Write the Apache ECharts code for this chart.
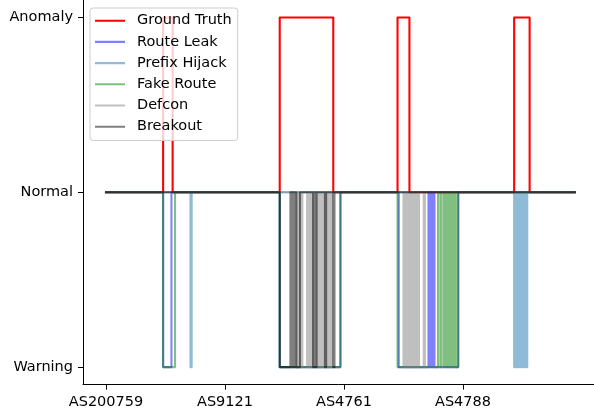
<!DOCTYPE html>
<html>
<head>
<meta charset="utf-8">
<script src="https://cdn.jsdelivr.net/npm/echarts@6/dist/echarts.min.js"></script>
<style>html,body{margin:0;padding:0;background:#fff}#c{width:594px;height:412px}</style>
</head>
<body>
<div id="c"></div>
<script>
// ---- data (sample index on x; 1 = Anomaly, 0 = Normal, -1 = Warning) ----
const xTickPos = [0, 100, 200, 300];
const xTickLabels = ['AS200759', 'AS9121', 'AS4761', 'AS4788'];
const yTickPos = [-1, 0, 1];
const yTickLabels = ['Warning', 'Normal', 'Anomaly'];
const lastSample = 394;

// intervals [start, end) where the series leaves Normal
const groundTruth = [[48,56],[146,191],[245,255],[343,356]];
const routeLeak = [[48,55],[146,197],[246,271],[272,273],[274,275],[276,296]];
const prefixHijack = [[71,72],[343,344],[345,346],[347,348],[349,350],[351,352],[353,354]];
const fakeRoute = [[48,58],[146,197],[245,279],[281,282],[284,285],[286,287],[288,289],[290,291],[292,293],[294,296]];
const defcon = [[160,161],[162,163],[164,165],[169,170],[171,172],[173,174],[177,178],[179,180],[181,182],[183,184],[185,186],[187,188],[189,190],
                [250,251],[252,253],[254,255],[256,257],[258,259],[260,261],[262,263],[267,268]];
const breakout = [[146,155],[156,157],[158,159],[160,163],[174,175],[176,177],[184,185],[191,192]];

function toPoints(intervals, level) {
  const pts = [[0, 0]];
  intervals.forEach(([a, b]) => { pts.push([a, 0], [a, level], [b, level], [b, 0]); });
  pts.push([lastSample, 0]);
  return pts;
}

const seriesDefs = [
  { name: 'Ground Truth', data: groundTruth, level: 1, color: 'rgb(255,0,0)' },
  { name: 'Route Leak', data: routeLeak, level: -1, color: 'rgba(0,0,255,0.5)' },
  { name: 'Prefix Hijack', data: prefixHijack, level: -1, color: 'rgba(31,119,180,0.5)' },
  { name: 'Fake Route', data: fakeRoute, level: -1, color: 'rgba(0,128,0,0.5)' },
  { name: 'Defcon', data: defcon, level: -1, color: 'rgba(128,128,128,0.5)' },
  { name: 'Breakout', data: breakout, level: -1, color: 'rgba(0,0,0,0.5)' }
];

const LW = 2.08;
const FS = 14.5;
const lineIcon = 'path://M0,0L30,0M0,5.96H30V8.04H0ZM0,14L30,14';
const font = 'DejaVu Sans';
const chart = echarts.init(document.getElementById('c'), null, { renderer: 'canvas' });
chart.setOption({
  animation: false,
  backgroundColor: '#fff',
  textStyle: { fontFamily: font },
  grid: { left: 83, top: 0, right: 0, height: 384.6, containLabel: false },
  xAxis: {
    type: 'value', min: -19.33, max: 410.1,
    splitLine: { show: false },
    axisLine: { show: true, onZero: false, lineStyle: { color: '#000', width: 1 } },
    axisTick: { show: true, length: 5, lineStyle: { color: '#000' }, customValues: xTickPos },
    axisLabel: { show: true, margin: 10, fontSize: FS, color: '#000', fontFamily: font,
      customValues: xTickPos,
      formatter: v => xTickLabels[xTickPos.indexOf(Math.round(v))] || '' }
  },
  yAxis: {
    type: 'value', min: -1.1, max: 1.1,
    splitLine: { show: false },
    axisLine: { show: true, onZero: false, lineStyle: { color: '#000', width: 1 } },
    axisTick: { show: true, length: 5, lineStyle: { color: '#000' }, customValues: yTickPos },
    axisLabel: { show: true, margin: 10, fontSize: FS, color: '#000', fontFamily: font,
      customValues: yTickPos,
      formatter: v => yTickLabels[yTickPos.indexOf(Math.round(v))] || '' }
  },
  legend: {
    orient: 'vertical', left: 90, top: 8,
    padding: [5.2, 6, 6.2, 5],
    itemWidth: 30, itemHeight: 14, itemGap: 6.2,
    backgroundColor: 'rgba(255,255,255,0.8)', borderColor: '#cccccc', borderWidth: 1, borderRadius: 3,
    itemStyle: { borderWidth: 0 },
    textStyle: { fontSize: FS, color: '#000', fontFamily: font, padding: [0, 0, 0, 7] },
    data: seriesDefs.map(s => ({ name: s.name, icon: lineIcon }))
  },
  series: seriesDefs.map((s, i) => ({
    name: s.name, type: 'custom', coordinateSystem: 'cartesian2d',
    data: [[0, 0]],
    itemStyle: { color: s.color },
    clip: true,
    silent: true,
    renderItem: (params, api) => {
      const def = seriesDefs[params.seriesIndex];
      const pts = toPoints(def.data, def.level).map(p => api.coord(p));
      return {
        type: 'polyline',
        shape: { points: pts },
        style: { stroke: def.color, lineWidth: LW, fill: null, lineJoin: 'round', lineCap: 'square' }
      };
    }
  }))
});
</script>
</body>
</html>
